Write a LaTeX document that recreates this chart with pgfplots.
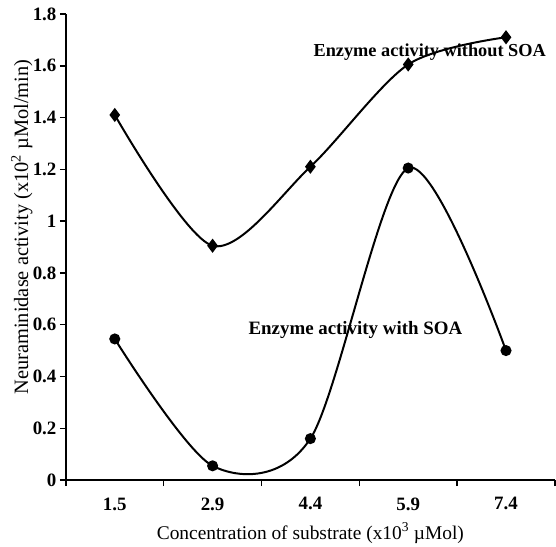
\documentclass[border=0pt]{standalone}
\usepackage{pgfplots}
\pgfplotsset{compat=1.18}
\usepackage{fontspec}
\setmainfont{Liberation Serif}
\begin{document}
\begin{tikzpicture}[font=\fontsize{19}{22}\selectfont]
\begin{axis}[
    scale only axis,
    width=490bp, height=467bp,
    xmin=0.5, xmax=5.5,
    ymin=0, ymax=1.8,
    axis lines=left,
    axis line style={line width=2.2pt, -},
    xtick={1,2,3,4,5},
    xticklabels={1.5,2.9,4.4,5.9,7.4},
    minor xtick={0.5,1.5,2.5,3.5,4.5,5.5},
    major x tick style={draw=none},
    minor x tick style={line width=1.5pt, black},
    minor tick length=6bp,
    ytick={0,0.2,...,1.8},
    y tick style={line width=1.5pt, black},
    major tick length=6bp,
    tick align=outside,
    yticklabel style={/pgf/number format/fixed, /pgf/number format/precision=1},
    /pgf/number format/assume math mode=true,
    tick label style={font=\fontsize{19}{22}\selectfont\bfseries},
    xticklabel shift=8bp,
    xlabel={Concentration of substrate (x10\textsuperscript{3} µMol)},
    ylabel={Neuraminidase activity (x10\textsuperscript{2} µMol/min)},
    xlabel style={at={([yshift=-53bp]axis description cs:0.5,0)}, anchor=center},
    ylabel style={at={([xshift=-44bp,yshift=20bp]axis description cs:0,0.5)}, anchor=center,
        font=\fontsize{20.5}{22}\selectfont},
    xlabel style={font=\fontsize{19.5}{22}\selectfont},
    clip=false,
]
\addplot[black, line width=2pt, smooth, mark=diamond*, mark size=5.5bp,
    mark options={solid}] coordinates {
    (1,1.41) (2,0.905) (3,1.21) (4,1.605) (5,1.71)
};
\addplot[black, line width=2pt, smooth, mark=*, mark size=4.5bp] coordinates {
    (1,0.545) (2,0.055) (3,0.16) (4,1.205) (5,0.50)
};
\node[font=\fontsize{18.4}{22}\selectfont\bfseries] at (axis cs:4.22,1.654) {Enzyme activity without SOA};
\node[font=\fontsize{19}{22}\selectfont\bfseries] at (axis cs:3.46,0.578) {Enzyme activity with SOA};
\path ([xshift=-66bp,yshift=-64bp]rel axis cs:0,0);
\path ([yshift=14bp]rel axis cs:0,1);
\end{axis}
\end{tikzpicture}
\end{document}
